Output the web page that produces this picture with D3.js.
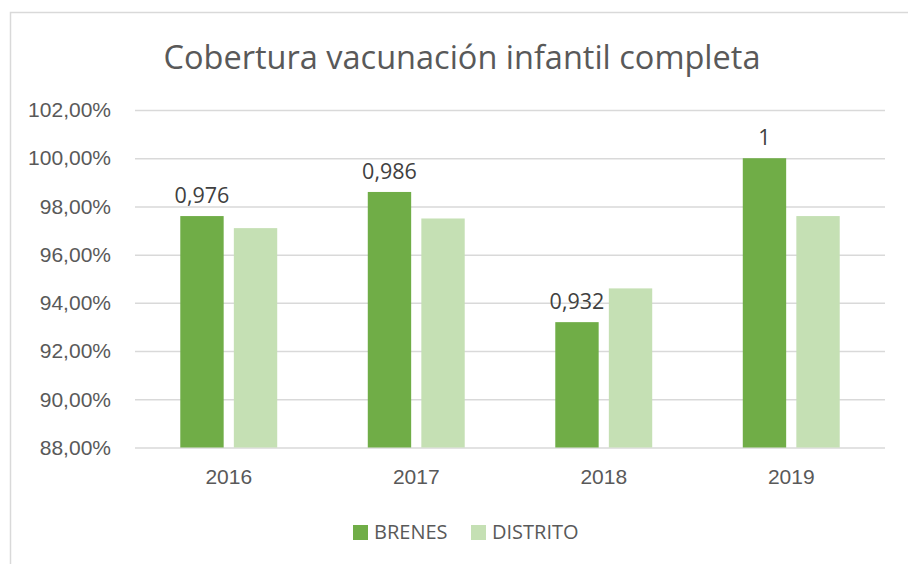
<!DOCTYPE html>
<html>
<head>
<meta charset="utf-8">
<script src="https://cdn.jsdelivr.net/npm/d3@7"></script>
<style>
  html, body { margin: 0; padding: 0; background: #fff; }
  svg { display: block; font-family: 'Open Sans', 'Noto Sans', sans-serif; }
</style>
</head>
<body>
<div id="chart"></div>
<script>
// datos
const years    = ['2016', '2017', '2018', '2019'];
const series   = ['BRENES', 'DISTRITO'];
const brenes   = [0.976, 0.986, 0.932, 1.0];
const distrito = [0.971, 0.975, 0.946, 0.976];
const yTicks   = [0.88, 0.90, 0.92, 0.94, 0.96, 0.98, 1.00, 1.02];
const colors   = ['#70ad47', '#c5e0b4'];

const W = 908, H = 564;
const plot = { left: 135, right: 885, top: 110, bottom: 447.5 };

const svg = d3.select('#chart').append('svg')
    .attr('width', W).attr('height', H);

// marco
svg.append('rect')
    .attr('x', 10.5).attr('y', 12.5)
    .attr('width', W + 10).attr('height', H + 10)
    .attr('fill', '#fff')
    .attr('stroke', '#d9d9d9')
    .attr('stroke-width', 1.5);

// título
svg.append('text')
    .attr('x', 462).attr('y', 69)
    .attr('text-anchor', 'middle')
    .attr('fill', '#595959')
    .attr('font-size', 32.5)
    .text('Cobertura vacunación infantil completa');

// escalas
const x0 = d3.scaleBand()
    .domain(years)
    .range([plot.left, plot.right])
    .paddingInner(0.483)
    .paddingOuter(0.2415);

const x1 = d3.scaleBand()
    .domain(series)
    .range([0, x0.bandwidth()])
    .paddingInner(0.19);

const y = d3.scaleLinear()
    .domain([0.88, 1.02])
    .range([plot.bottom, plot.top]);

const fmtPct = v => d3.format('.2f')(v * 100).replace('.', ',') + '%';

// rejilla + eje Y
const yAxis = d3.axisLeft(y)
    .tickValues(yTicks)
    .tickSize(-(plot.right - plot.left))
    .tickPadding(24)
    .tickFormat(fmtPct);

const gy = svg.append('g')
    .attr('transform', `translate(${plot.left},0)`)
    .call(yAxis);
gy.select('.domain').remove();
gy.selectAll('.tick line')
    .attr('stroke', '#d9d9d9')
    .attr('stroke-width', 1.5);
gy.selectAll('.tick text')
    .attr('fill', '#595959')
    .attr('font-size', 21)
    .attr('font-family', null);

// barras
const rows = years.map((yr, i) => ({ year: yr, values: [brenes[i], distrito[i]] }));

const groups = svg.append('g')
  .selectAll('g')
  .data(rows)
  .join('g')
    .attr('transform', d => `translate(${x0(d.year)},0)`);

groups.selectAll('rect')
  .data(d => d.values.map((v, k) => ({ key: series[k], k, v })))
  .join('rect')
    .attr('x', d => x1(d.key))
    .attr('y', d => y(d.v))
    .attr('width', x1.bandwidth())
    .attr('height', d => y(0.88) - y(d.v))
    .attr('fill', d => colors[d.k]);

// etiquetas de datos (solo BRENES)
groups.append('text')
    .attr('x', x1('BRENES') + x1.bandwidth() / 2)
    .attr('y', (d, i) => y(brenes[i]) - 13)
    .attr('text-anchor', 'middle')
    .attr('fill', '#404040')
    .attr('font-size', 21.5)
    .text((d, i) => String(brenes[i]).replace('.', ','));

// eje X
const xAxis = d3.axisBottom(x0).tickSize(0).tickPadding(22);
const gx = svg.append('g')
    .attr('transform', `translate(0,${plot.bottom})`)
    .call(xAxis);
gx.select('.domain').remove();
gx.selectAll('.tick text')
    .attr('fill', '#595959')
    .attr('font-size', 21)
    .attr('font-family', null);

// leyenda
const legendX = [353, 471];
const legend = svg.append('g');
series.forEach((s, i) => {
  legend.append('rect')
      .attr('x', legendX[i]).attr('y', 525)
      .attr('width', 15).attr('height', 15)
      .attr('fill', colors[i]);
  legend.append('text')
      .attr('x', legendX[i] + 21).attr('y', 539)
      .attr('fill', '#595959')
      .attr('font-size', 20)
      .text(s);
});
</script>
</body>
</html>
